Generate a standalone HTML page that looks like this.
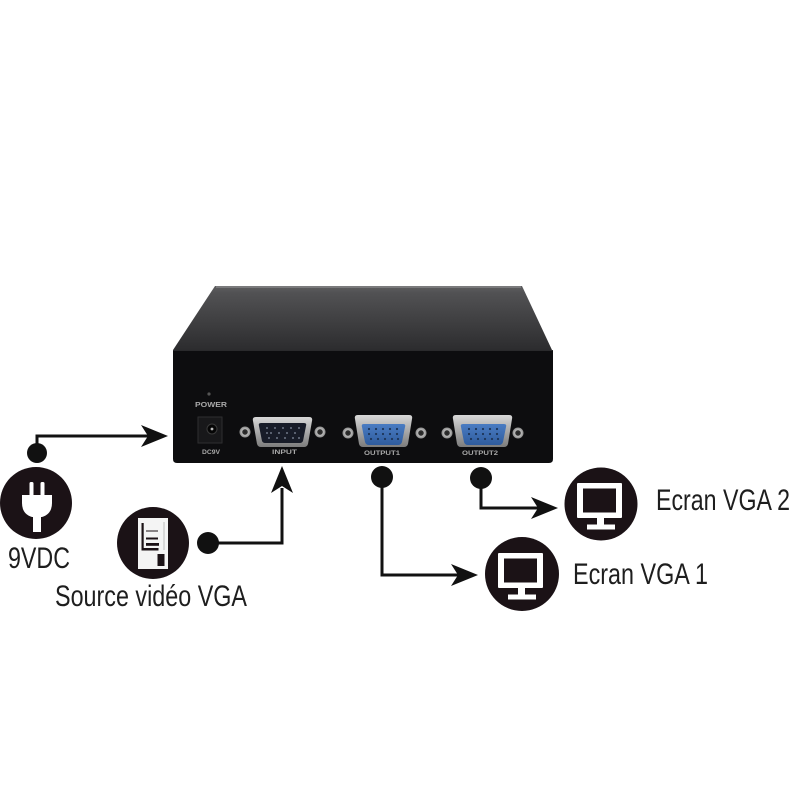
<!DOCTYPE html>
<html>
<head>
<meta charset="utf-8">
<style>
  html,body{margin:0;padding:0;background:#fff;}
  svg{display:block;}
  .lbl{font-family:"Liberation Sans",sans-serif;font-size:30px;fill:#1e1e1e;}
  .dev{font-family:"Liberation Sans",sans-serif;font-weight:bold;fill:#a8a8a8;}
</style>
</head>
<body>
<svg width="800" height="800" viewBox="0 0 800 800" xmlns="http://www.w3.org/2000/svg">
  <defs>
    <linearGradient id="topg" x1="0" y1="0" x2="0" y2="1">
      <stop offset="0" stop-color="#5e5e60"/>
      <stop offset="0.1" stop-color="#525254"/>
      <stop offset="1" stop-color="#2c2c2e"/>
    </linearGradient>
    <linearGradient id="metal" x1="0" y1="0" x2="0" y2="1">
      <stop offset="0" stop-color="#d8d8d8"/>
      <stop offset="0.5" stop-color="#a9a9a9"/>
      <stop offset="1" stop-color="#7c7c7c"/>
    </linearGradient>
    <linearGradient id="blue" x1="0" y1="0" x2="0" y2="1">
      <stop offset="0" stop-color="#4a7cc2"/>
      <stop offset="1" stop-color="#2f5c9e"/>
    </linearGradient>
    <radialGradient id="screw" cx="0.5" cy="0.5" r="0.5">
      <stop offset="0" stop-color="#222"/>
      <stop offset="0.45" stop-color="#333"/>
      <stop offset="0.55" stop-color="#bdbdbd"/>
      <stop offset="1" stop-color="#8a8a8a"/>
    </radialGradient>
  </defs>

  <rect width="800" height="800" fill="#fff"/>

  <!-- Device top surface -->
  <polygon points="215,286 522,286 552,350 173,350" fill="url(#topg)"/>
  <line x1="216" y1="287" x2="521" y2="287" stroke="#7a7a7c" stroke-width="2"/>
  <!-- Device front face -->
  <path d="M173,350 H553 V459 Q553,463 549,463 H177 Q173,463 173,459 Z" fill="#0d0d0f"/>
  <line x1="173" y1="350.5" x2="553" y2="350.5" stroke="#2a2a2c" stroke-width="1"/>

  <!-- POWER -->
  <circle cx="209" cy="394" r="1.6" fill="#555"/>
  <text class="dev" x="195" y="407" font-size="7" textLength="32" lengthAdjust="spacingAndGlyphs">POWER</text>
  <!-- DC jack -->
  <rect x="198" y="417" width="24" height="26" fill="#18181a" stroke="#2e2e30" stroke-width="1"/>
  <circle cx="212" cy="429" r="5" fill="#050505" stroke="#3a3a3a" stroke-width="1"/>
  <circle cx="212" cy="429" r="1.4" fill="#bbb"/>
  <text class="dev" x="202" y="454" font-size="6.5" textLength="18" lengthAdjust="spacingAndGlyphs">DC9V</text>

  <!-- INPUT connector -->
  <circle cx="245" cy="432" r="5.5" fill="url(#screw)"/>
  <circle cx="320" cy="432" r="5.5" fill="url(#screw)"/>
  <path d="M256,417 H309 Q313,417 312,421 L308,444 Q307,447 304,447 H261 Q258,447 257,444 L253,421 Q252,417 256,417 Z" fill="url(#metal)"/>
  <path d="M261,423 H304 Q307,423 306,426 L303,441 Q302,443 300,443 H265 Q263,443 262,441 L259,426 Q258,423 261,423 Z" fill="#181c28"/>
  <g fill="#6f7686">
    <circle cx="267" cy="428" r="1"/><circle cx="275" cy="428" r="1"/><circle cx="283" cy="428" r="1"/><circle cx="291" cy="428" r="1"/><circle cx="299" cy="428" r="1"/>
    <circle cx="271" cy="433" r="1"/><circle cx="279" cy="433" r="1"/><circle cx="287" cy="433" r="1"/><circle cx="295" cy="433" r="1"/><circle cx="267" cy="433" r="1"/>
    <circle cx="269" cy="438" r="1"/><circle cx="277" cy="438" r="1"/><circle cx="285" cy="438" r="1"/><circle cx="293" cy="438" r="1"/><circle cx="299" cy="438" r="1"/>
  </g>
  <text class="dev" x="272" y="454" font-size="6.5" textLength="25" lengthAdjust="spacingAndGlyphs">INPUT</text>

  <!-- OUTPUT1 connector -->
  <circle cx="348" cy="433" r="5.5" fill="url(#screw)"/>
  <circle cx="421" cy="433" r="5.5" fill="url(#screw)"/>
  <path d="M358,415 H409 Q413,415 412,419 L408,444 Q407,447 404,447 H363 Q360,447 359,444 L355,419 Q354,415 358,415 Z" fill="url(#metal)"/>
  <path d="M364,424 H403 Q406,424 405,427 L402,442 Q401,445 398,445 H369 Q366,445 365,442 L362,427 Q361,424 364,424 Z" fill="url(#blue)"/>
  <g fill="#1d3558">
    <circle cx="369" cy="429" r="1.1"/><circle cx="376" cy="429" r="1.1"/><circle cx="383" cy="429" r="1.1"/><circle cx="390" cy="429" r="1.1"/><circle cx="397" cy="429" r="1.1"/>
    <circle cx="369" cy="434" r="1.1"/><circle cx="376" cy="434" r="1.1"/><circle cx="383" cy="434" r="1.1"/><circle cx="390" cy="434" r="1.1"/><circle cx="397" cy="434" r="1.1"/>
    <circle cx="371" cy="439" r="1.1"/><circle cx="378" cy="439" r="1.1"/><circle cx="385" cy="439" r="1.1"/><circle cx="392" cy="439" r="1.1"/><circle cx="398" cy="439" r="1.1"/>
  </g>
  <text class="dev" x="364" y="455" font-size="6.5" textLength="36" lengthAdjust="spacingAndGlyphs">OUTPUT1</text>

  <!-- OUTPUT2 connector -->
  <circle cx="447" cy="433" r="5.5" fill="url(#screw)"/>
  <circle cx="518" cy="433" r="5.5" fill="url(#screw)"/>
  <path d="M456,415 H509 Q513,415 512,419 L508,444 Q507,447 504,447 H461 Q458,447 457,444 L453,419 Q452,415 456,415 Z" fill="url(#metal)"/>
  <path d="M463,424 H504 Q507,424 506,427 L503,442 Q502,445 499,445 H468 Q465,445 464,442 L461,427 Q460,424 463,424 Z" fill="url(#blue)"/>
  <g fill="#1d3558">
    <circle cx="469" cy="429" r="1.1"/><circle cx="476" cy="429" r="1.1"/><circle cx="483" cy="429" r="1.1"/><circle cx="490" cy="429" r="1.1"/><circle cx="497" cy="429" r="1.1"/>
    <circle cx="469" cy="434" r="1.1"/><circle cx="476" cy="434" r="1.1"/><circle cx="483" cy="434" r="1.1"/><circle cx="490" cy="434" r="1.1"/><circle cx="497" cy="434" r="1.1"/>
    <circle cx="471" cy="439" r="1.1"/><circle cx="478" cy="439" r="1.1"/><circle cx="485" cy="439" r="1.1"/><circle cx="492" cy="439" r="1.1"/><circle cx="498" cy="439" r="1.1"/>
  </g>
  <text class="dev" x="462" y="455" font-size="6.5" textLength="36" lengthAdjust="spacingAndGlyphs">OUTPUT2</text>

  <!-- Connectors / arrows -->
  <g stroke="#111" stroke-width="3" fill="none">
    <polyline points="37,453 37,436 152,436"/>
    <polyline points="208,543 282,543 282,488"/>
    <polyline points="382,477 382,575 458,575"/>
    <polyline points="481,478 481,508 538,508"/>
  </g>
  <g fill="#111">
    <circle cx="37" cy="453" r="10"/>
    <polygon points="168,436 141,425 148,436 141,447"/>
    <circle cx="208" cy="543" r="11"/>
    <polygon points="282,466 271,493 282,486 293,493"/>
    <circle cx="382" cy="477" r="11"/>
    <polygon points="478,575 451,564 458,575 451,586"/>
    <circle cx="481" cy="478" r="11"/>
    <polygon points="558,508 531,497 538,508 531,519"/>
  </g>

  <!-- Plug icon -->
  <circle cx="36" cy="503" r="36" fill="#1b1216"/>
  <g fill="#fff">
    <rect x="29.5" y="482" width="4" height="14" rx="1.5"/>
    <rect x="40.5" y="482" width="4" height="14" rx="1.5"/>
    <path d="M22,495 H52 V503 Q52,514 42,517 H32 Q22,514 22,503 Z"/>
    <rect x="33" y="515" width="8" height="17"/>
  </g>

  <!-- Source icon -->
  <circle cx="153" cy="543" r="36" fill="#1b1216"/>
  <rect x="138" y="518" width="30" height="51" fill="#f4f4f4"/>
  <g fill="#1b1216">
    <rect x="141.5" y="523" width="2.2" height="25"/>
    <rect x="146" y="530.5" width="12" height="1"/>
    <rect x="146" y="537.5" width="12" height="2"/>
    <rect x="146" y="543" width="13" height="2.8"/>
    <rect x="141.5" y="548" width="17" height="2.5"/>
    <rect x="157.5" y="554" width="7" height="12"/>
  </g>
  <rect x="163.5" y="522" width="1" height="28" fill="#bbb"/>

  <!-- Monitor 2 -->
  <circle cx="601" cy="504" r="36.5" fill="#1b1216"/>
  <g fill="#fff">
    <rect x="577" y="483" width="45" height="35" rx="1"/>
    <rect x="597" y="517" width="7" height="8"/>
    <rect x="587" y="524.5" width="28" height="5"/>
  </g>
  <rect x="583" y="488.5" width="33" height="24" fill="#1b1216"/>

  <!-- Monitor 1 -->
  <circle cx="522" cy="574" r="37" fill="#1b1216"/>
  <g fill="#fff">
    <rect x="498" y="553" width="45" height="35" rx="1"/>
    <rect x="518" y="587" width="7" height="8"/>
    <rect x="508" y="594.5" width="28" height="5"/>
  </g>
  <rect x="504" y="558.5" width="33" height="24" fill="#1b1216"/>

  <!-- Labels -->
  <text class="lbl" x="8" y="568" textLength="62" lengthAdjust="spacingAndGlyphs">9VDC</text>
  <text class="lbl" x="55" y="606" textLength="192" lengthAdjust="spacingAndGlyphs">Source vidéo VGA</text>
  <text class="lbl" x="656" y="510" textLength="134" lengthAdjust="spacingAndGlyphs">Ecran VGA 2</text>
  <text class="lbl" x="573" y="584" textLength="135" lengthAdjust="spacingAndGlyphs">Ecran VGA 1</text>
</svg>
</body>
</html>
